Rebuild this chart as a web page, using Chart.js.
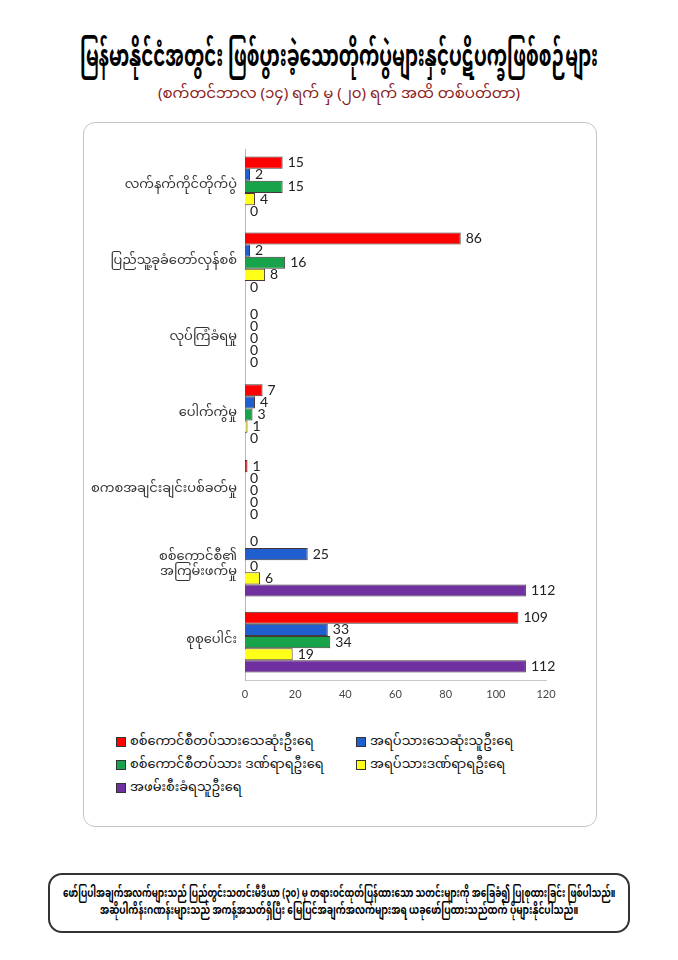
<!DOCTYPE html>
<html>
<head>
<meta charset="utf-8">
<script src="https://cdn.jsdelivr.net/npm/chart.js@4"></script>
<style>
    body { margin: 0; background: #fff; }
    #page { position: relative; width: 678px; height: 960px; overflow: hidden;
            font-family: "Noto Sans Myanmar", "Myanmar Text", "Padauk", "Noto Sans", sans-serif; }
    .fit { position: absolute; white-space: nowrap; transform-origin: 0 0; }
    #title { top: 26px; font-size: 30px; font-weight: bold; color: #000; }
    #subtitle { left: 0; top: 78px; width: 678px; text-align: center;
                font-size: 15px; color: #8b1a1a; position: absolute; }
    #chartBox { position: absolute; left: 83px; top: 122px; width: 514px; height: 705px;
                border: 1.5px solid #c4c4c4; border-radius: 12px; box-sizing: border-box; }
    #chartWrap { position: absolute; left: 83px; top: 122px; width: 515px; height: 590px; }
    #legend { position: absolute; left: 116px; top: 732px; display: grid;
              grid-template-columns: 240px 240px; row-gap: 4px; font-size: 13px; color: #111; }
    .item { display: flex; align-items: center; height: 19px; white-space: nowrap; }
    .swatch { width: 8px; height: 8px; border: 1px solid #333; margin-right: 4px; }
    #note { position: absolute; left: 48px; top: 873px; width: 582px; height: 60px;
            border: 2px solid #333; border-radius: 14px; box-sizing: border-box; }
    .noteLine { font-size: 12px; font-weight: bold; color: #000; }
</style>
</head>
<body>
<div id="page">
    <div id="title" class="fit" data-cx="339" data-w="518">မြန်မာနိုင်ငံအတွင်း ဖြစ်ပွားခဲ့သောတိုက်ပွဲများနှင့်ပဋိပက္ခဖြစ်စဉ်များ</div>
    <div id="subtitle">(စက်တင်ဘာလ (၁၄) ရက် မှ (၂၀) ရက် အထိ တစ်ပတ်တာ)</div>
    <div id="chartBox"></div>
    <div id="chartWrap"><canvas id="incidentChart" width="515" height="590"></canvas></div>
    <div id="legend"></div>
    <div id="note"></div>
    <div class="fit noteLine" style="top:881px" data-cx="339" data-w="552">ဖော်ပြပါအချက်အလက်များသည် ပြည်တွင်းသတင်းမီဒီယာ (၃၀) မှ တရားဝင်ထုတ်ပြန်ထားသော သတင်းများကို အခြေခံ၍ ပြုစုထားခြင်း ဖြစ်ပါသည်။</div>
    <div class="fit noteLine" style="top:898px" data-cx="339" data-w="478">အဆိုပါကိန်းဂဏန်းများသည် အကန့်အသတ်ရှိပြီး မြေပြင်အချက်အလက်များအရ ယခုဖော်ပြထားသည်ထက် ပိုများနိုင်ပါသည်။</div>
</div>
<script>
// 数据
const categories = [
    'လက်နက်ကိုင်တိုက်ပွဲ',
    'ပြည်သူ့ခုခံတော်လှန်စစ်',
    'လုပ်ကြံခံရမှု',
    'ပေါက်ကွဲမှု',
    'စကစအချင်းချင်းပစ်ခတ်မှု',
    ['စစ်ကောင်စီ၏', 'အကြမ်းဖက်မှု'],
    'စုစုပေါင်း'
];
const seriesNames = [
    'စစ်ကောင်စီတပ်သားသေဆုံးဦးရေ',
    'အရပ်သားသေဆုံးသူဦးရေ',
    'စစ်ကောင်စီတပ်သား ဒဏ်ရာရဦးရေ',
    'အရပ်သားဒဏ်ရာရဦးရေ',
    'အဖမ်းစီးခံရသူဦးရေ'
];
const troopsKilled     = [15, 86, 0, 7, 1, 0, 109];
const civiliansKilled  = [2, 2, 0, 4, 0, 25, 33];
const troopsInjured    = [15, 16, 0, 3, 0, 0, 34];
const civiliansInjured = [4, 8, 0, 1, 0, 6, 19];
const arrested         = [0, 0, 0, 0, 0, 112, 112];
const xTicks = [0, 20, 40, 60, 80, 100, 120];

const seriesValues = [troopsKilled, civiliansKilled, troopsInjured, civiliansInjured, arrested];
const seriesColors = ['#ff0000', '#1f5fd0', '#17a34a', '#ffff1a', '#7030a0'];

const myanmarFont = '"Noto Sans Myanmar", "Myanmar Text", "Padauk", "Noto Sans", sans-serif';

// 标题等文字按宽度压缩居中
document.querySelectorAll('.fit').forEach(el => {
    const w = el.scrollWidth;
    const target = parseFloat(el.dataset.w);
    const s = target / w;
    el.style.left = (parseFloat(el.dataset.cx) - target / 2) + 'px';
    el.style.transform = 'scaleX(' + s + ')';
});

// 柱端数值标签
const valueLabels = {
    id: 'valueLabels',
    afterDatasetsDraw(chart) {
        const ctx = chart.ctx;
        ctx.save();
        ctx.font = '14px Lato, "Open Sans", sans-serif';
        ctx.fillStyle = '#222';
        ctx.textBaseline = 'middle';
        ctx.textAlign = 'left';
        chart.data.datasets.forEach((ds, i) => {
            chart.getDatasetMeta(i).data.forEach((bar, j) => {
                ctx.fillText(ds.data[j], bar.x + 5, bar.y);
            });
        });
        ctx.restore();
    }
};

const ctx = document.getElementById('incidentChart').getContext('2d');
const incidentChart = new Chart(ctx, {
    type: 'bar',
    data: {
        labels: categories,
        datasets: seriesNames.map((name, i) => ({
            label: name,
            data: seriesValues[i],
            backgroundColor: seriesColors[i],
            borderColor: 'rgba(40, 20, 20, 0.85)',
            borderWidth: 1,
            categoryPercentage: 0.8,
            barPercentage: 1.0
        }))
    },
    options: {
        indexAxis: 'y',
        responsive: false,
        animation: false,
        layout: { padding: { top: 27, right: 52, left: 0, bottom: 0 } },
        plugins: {
            legend: { display: false },
            tooltip: { enabled: false }
        },
        scales: {
            x: {
                min: 0,
                max: 120,
                afterBuildTicks(scale) {
                    scale.ticks = xTicks.map(v => ({ value: v }));
                },
                afterFit(scale) { scale.height = 32; },
                grid: { display: false, drawTicks: false },
                border: { color: '#c8c8c8', width: 1 },
                ticks: { color: '#444', font: { size: 11, family: 'Lato, "Open Sans", sans-serif' }, padding: 8 }
            },
            y: {
                afterFit(scale) { scale.width = 162; },
                grid: { display: false, drawTicks: false },
                border: { color: '#b8b8b8', width: 1 },
                ticks: { color: '#333', font: { size: 13, family: myanmarFont }, padding: 8 }
            }
        }
    },
    plugins: [valueLabels]
});

// 图例
const legendEl = document.getElementById('legend');
seriesNames.forEach((name, i) => {
    const item = document.createElement('div');
    item.className = 'item';
    item.innerHTML = '<span class="swatch" style="background:' + seriesColors[i] + '"></span>' + name;
    legendEl.appendChild(item);
});
</script>
</body>
</html>
